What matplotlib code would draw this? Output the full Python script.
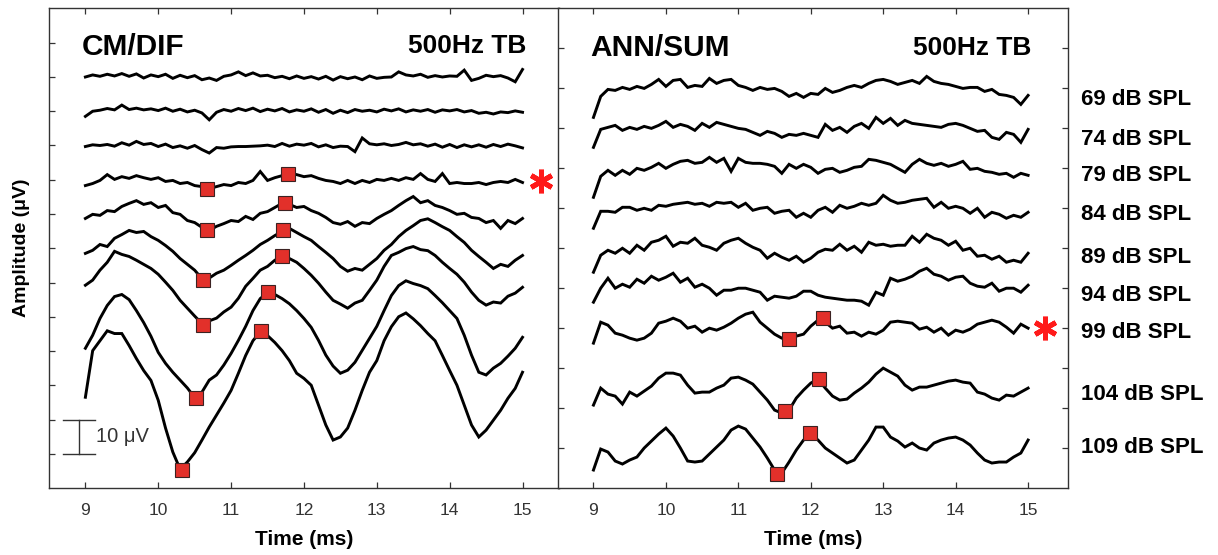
import numpy as np
import matplotlib
matplotlib.use("Agg")
import matplotlib.pyplot as plt
import matplotlib.transforms as mtransforms

plt.rcParams['font.family'] = ['Liberation Sans', 'DejaVu Sans']

# stimulus levels (dB SPL), one trace per level, top to bottom
levels = ['69', '74', '79', '84', '89', '94', '99', '104', '109']

# ---- CM/DIF panel: trace offsets (uV) and waveforms (uV, 9.0..15.0 ms, 0.1 ms step)
cm_offsets = [120.0, 110.0, 100.0, 88.9, 78.7, 68.5, 59.2, 40.8, 26.5]

cm_69 = [0.0, 0.6, 0.2, 0.8, 0.3, 1.0, 0.2, 0.9, -0.3, 0.6,
         0.1, 0.8, -0.4, 0.5, -0.2, 0.4, -0.8, -0.3, -1.0, 0.2,
         0.6, 1.5, 0.4, 1.2, 0.3, 0.5, -0.2, 0.2, -0.5, 0.3,
         -0.4, 0.1, -0.6, 0.2, -0.9, 0.1, -0.5, 0.0, -0.8, 0.3,
         -0.4, -0.1, 0.0, 1.5, 0.6, 0.3, 0.8, -0.1, 0.4, 0.0,
         0.3, 0.2, 2.0, -1.0, -0.4, 0.5, 0.1, 0.4, -0.3, -1.4,
         2.2]
cm_74 = [-1.5, 0.0, 0.3, 0.8, 0.4, 1.8, 0.5, 0.9, 0.4, 0.7,
         0.2, 0.9, 0.0, 0.6, -0.2, 0.3, -0.5, -2.5, -0.3, 0.5,
         0.0, 0.8, 0.2, 0.9, -0.1, 0.6, 0.1, 0.8, -0.2, 0.4,
         0.0, 0.7, -0.3, 0.5, -0.6, 0.3, -0.4, 0.5, 0.0, 0.3,
         -0.2, 0.6, 0.1, 0.7, -0.2, 0.4, 0.0, 0.5, -0.3, 0.4,
         0.1, 0.5, -0.2, 0.2, -0.6, -0.3, -0.8, -0.2, -0.4, 0.1,
         -0.3]
cm_79 = [-0.3, 0.2, 0.0, 0.3, -0.2, 0.8, 0.1, 1.2, 0.3, 0.6,
         -0.3, 0.4, -0.6, -0.1, -0.8, 0.0, -1.2, -2.2, -0.6, -0.8,
         -0.4, -0.3, -0.3, -0.2, -0.1, 0.1, -0.3, 0.6, -0.2, 0.4,
         0.1, 0.6, -0.4, 0.2, -0.6, -0.2, -0.3, -1.8, 2.2, 0.5,
         0.2, 0.5, 0.0, 0.3, 0.9, 0.2, 0.5, -0.2, 0.4, -0.5,
         0.3, -0.6, 0.2, -0.4, 0.2, -0.5, 0.3, -0.3, 0.4, -0.1,
         -0.7]
cm_84 = [-0.6, 0.0, 0.9, 2.6, 1.2, 2.0, 1.5, 2.3, 1.7, 1.2,
         1.7, 0.6, 0.9, 0.0, 0.3, -0.6, -0.9, -1.5, -0.9, -0.3,
         -0.6, 0.3, 0.0, 0.9, 3.5, 0.9, 1.7, 2.3, 2.9, 2.6,
         2.0, 2.3, 1.5, 0.9, 0.6, 0.0, 0.9, 0.0, 0.9, 0.3,
         1.2, 0.9, 1.5, 0.9, 1.7, 1.2, 2.9, 1.2, 0.6, 2.9,
         0.0, 0.3, 0.0, 0.0, 0.3, -0.3, 0.3, 0.6, 0.3, 1.2,
         0.3]
cm_89 = [0.0, 1.2, 0.9, 2.3, 2.0, 3.5, 4.4, 5.2, 4.1, 4.6,
         3.2, 3.8, 1.7, 1.2, -0.6, -1.2, -2.6, -3.5, -2.3, -1.5,
         -0.6, -0.9, 0.6, -0.3, 1.5, 2.0, 3.2, 4.4, 4.1, 3.2,
         3.5, 2.3, 1.5, 0.3, -1.2, -1.7, -0.9, -2.3, -1.2, -1.5,
         0.0, 1.2, 2.3, 3.8, 5.2, 6.4, 4.6, 5.2, 3.8, 3.2,
         2.3, 1.2, 1.5, 0.3, 0.0, -1.2, -0.6, -2.9, -0.6, -1.5,
         0.0]
cm_94 = [0.0, 0.9, 2.6, 2.0, 4.4, 5.5, 6.7, 6.1, 6.4, 4.9,
         3.8, 2.3, 0.6, -1.5, -3.2, -4.9, -7.4, -7.2, -5.8, -4.9,
         -3.5, -2.0, -0.6, 0.9, 2.6, 3.8, 5.2, 6.4, 7.3, 6.1,
         4.9, 3.8, 2.0, 0.3, -1.5, -3.8, -5.2, -4.4, -4.9, -3.2,
         -1.5, 0.9, 2.6, 4.9, 6.7, 8.1, 9.6, 10.1, 9.0, 7.8,
         6.7, 4.9, 3.2, 0.9, -0.9, -2.6, -4.4, -3.2, -3.8, -2.0,
         -0.6]
cm_99 = [0.0, 1.5, 4.4, 6.7, 9.9, 9.0, 8.4, 7.3, 6.1, 4.9,
         3.2, 0.9, -1.5, -4.4, -6.7, -9.0, -11.2, -10.4, -9.6, -7.8,
         -6.4, -3.8, -0.3, 2.0, 4.4, 5.5, 7.3, 8.4, 7.8, 6.7,
         4.9, 2.9, 0.6, -2.0, -4.4, -5.5, -6.7, -5.2, -4.4, -1.5,
         1.5, 5.5, 8.7, 9.6, 10.7, 11.3, 10.4, 10.1, 8.7, 6.7,
         4.9, 3.2, 0.9, -2.0, -4.4, -5.8, -4.9, -5.2, -3.2, -2.3,
         -0.6]
cm_104 = [0.0, 3.8, 8.7, 12.5, 15.1, 15.7, 14.2, 11.0, 7.5, 3.5,
          -1.2, -4.4, -7.0, -9.3, -11.6, -14.4, -12.8, -9.3, -7.8, -4.9,
          -1.5, 2.3, 6.4, 11.0, 14.5, 16.2, 15.7, 14.5, 13.0, 11.0,
          8.7, 6.1, 2.3, -2.0, -5.2, -7.3, -6.4, -4.1, -0.6, 2.9,
          6.4, 11.0, 15.4, 18.3, 19.7, 18.9, 18.3, 17.4, 15.4, 13.3,
          11.0, 8.7, 3.8, -2.0, -7.0, -7.8, -5.8, -4.4, -2.3, 0.0,
          3.2]
cm_109 = [0.0, 13.6, 16.5, 19.4, 18.6, 18.6, 15.1, 11.3, 7.8, 4.9,
          -0.9, -9.0, -16.0, -21.0, -18.9, -16.2, -12.5, -8.7, -5.2, -1.7,
          2.0, 7.0, 12.2, 16.5, 19.1, 18.0, 16.0, 13.6, 10.7, 7.0,
          5.5, 3.5, -2.3, -8.1, -12.5, -11.6, -9.0, -3.8, 2.0, 7.3,
          10.7, 16.5, 20.6, 23.5, 24.6, 22.9, 20.9, 18.6, 16.5, 12.2,
          7.8, 3.5, -2.3, -8.1, -11.6, -9.6, -6.7, -3.8, -0.3, 2.6,
          7.3]
cm_traces = [cm_69, cm_74, cm_79, cm_84, cm_89, cm_94, cm_99, cm_104, cm_109]

# picked troughs/peaks on the CM/DIF traces (ms, uV)
cm_mark_t = [10.67, 11.78, 10.67, 11.74, 10.62, 11.71, 10.62, 11.70, 10.52, 11.50, 10.33, 11.41]
cm_mark_v = [87.2, 91.8, 75.2, 83.1, 60.6, 75.2, 47.5, 67.6, 26.2, 57.1, 5.2, 45.8]
cm_star = (15.25, 89.5)

# ---- ANN/SUM panel: trace offsets and waveforms (9.0..15.0 ms, 0.1 ms step)
ann_offsets = [97.75, 87.75, 78.75, 69.0, 58.25, 48.75, 39.5, 24.0, 10.75]

ann_69 = [-5.0, 0.25, 2.0, 1.75, 2.5, 2.0, 2.75, 2.25, 3.25, 4.5,
          2.75, 4.25, 4.5, 2.5, 3.0, 2.75, 4.75, 3.5, 4.25, 4.5,
          3.0, 2.5, 1.75, 2.5, 2.0, 2.25, 1.5, 0.25, 1.0, 0.0,
          1.0, 0.75, 2.25, 1.25, 1.75, 2.5, 3.0, 2.5, 3.5, 4.25,
          4.5, 4.0, 3.25, 3.75, 4.25, 3.5, 5.25, 4.0, 3.5, 3.25,
          2.75, 2.25, 2.5, 2.5, 1.5, 2.0, 0.75, 0.5, 0.0, -1.75,
          0.5]
ann_74 = [-2.5, 2.0, 2.5, 3.0, 1.75, 2.5, 2.0, 2.75, 2.25, 3.0,
          4.0, 2.5, 3.25, 2.75, 1.75, 3.5, 2.5, 3.75, 3.25, 2.75,
          2.25, 2.0, 1.25, 0.5, 1.5, 1.0, 0.0, 0.75, 0.5, 1.0,
          0.5, 0.0, 3.25, 1.75, 2.5, 1.25, 2.75, 3.5, 2.25, 5.0,
          3.5, 4.75, 3.0, 4.25, 3.5, 3.25, 3.0, 2.75, 2.5, 3.25,
          3.5, 3.0, 2.25, 1.5, 1.75, 0.0, -0.5, 1.25, 0.75, -1.25,
          2.0]
ann_79 = [-6.0, -0.75, 0.75, -0.5, 0.75, -0.25, 1.25, 0.75, 1.5, 2.5,
          1.25, 2.25, 3.0, 3.25, 2.5, 2.75, 4.0, 2.75, 3.75, 0.5,
          3.75, 2.75, 2.5, 2.5, 2.25, 1.75, 0.0, 2.25, 1.25, 2.25,
          1.5, 0.0, 1.0, 1.25, 0.25, 0.75, 1.5, 1.75, 3.5, 3.25,
          2.75, 2.25, 1.25, 0.25, 2.25, 3.5, 2.5, 2.0, 2.5, 1.75,
          2.25, 3.0, 1.0, 1.25, 0.5, 0.25, -0.25, 0.0, -1.0, 0.0,
          -0.5]
ann_84 = [-4.0, 0.25, 0.25, 0.0, 1.25, 1.25, 0.5, 1.0, 0.5, 1.75,
          1.5, 2.0, 2.25, 2.5, 2.0, 2.25, 1.5, 2.5, 2.25, 2.5,
          1.25, 2.25, 0.5, 1.0, 1.25, -0.25, 0.25, 0.5, -1.25, -0.25,
          -1.25, 0.5, 1.25, 0.0, 1.75, 1.0, 1.5, 2.25, 1.75, 2.25,
          4.25, 3.0, 2.25, 2.5, 3.0, 3.25, 3.5, 1.25, 2.5, 1.0,
          1.5, 1.0, -0.25, 1.0, -1.25, 0.0, -0.5, -1.5, -0.75, -1.25,
          0.0]
ann_89 = [-4.25, 0.0, 1.25, 0.5, 1.75, 0.5, 2.5, 1.25, 3.25, 3.75,
          4.75, 2.25, 3.25, 3.0, 4.25, 2.5, 2.0, 1.25, 3.0, 3.75,
          4.25, 3.0, 2.0, 1.25, -0.75, 0.5, -0.5, -1.25, -0.25, -1.75,
          -0.75, 0.75, 1.5, 1.25, 2.75, 1.25, 2.25, 0.75, 3.25, 2.5,
          2.75, 2.25, 2.5, 2.5, 4.75, 3.25, 5.25, 4.25, 3.75, 2.5,
          3.5, 1.25, 1.75, -0.25, 0.0, -1.0, -0.25, -1.75, -1.25, -1.75,
          0.5]
ann_94 = [-2.25, 1.25, 3.75, 1.25, 2.25, 1.5, 3.5, 2.5, 4.25, 3.25,
          4.0, 5.0, 2.75, 3.75, 1.5, 2.25, 1.25, -0.5, 0.75, 0.75,
          1.25, 1.25, 0.75, 0.25, -1.75, -0.75, -1.0, -1.25, -0.75, 0.5,
          0.5, -0.5, -1.0, -1.25, -1.5, -1.75, -1.75, -2.0, -3.0, 0.25,
          -0.5, 3.75, 3.0, 3.5, 4.25, 5.5, 6.25, 4.75, 4.25, 3.25,
          4.0, 4.25, 2.5, 1.75, 1.5, 2.5, 0.5, 1.25, 1.25, 0.25,
          2.0]
ann_99 = [-3.25, 2.0, 1.25, -0.75, -1.25, -2.0, -2.5, -2.0, -0.75, 1.75,
          2.25, 3.0, 2.25, 0.5, 1.0, -0.5, 0.5, 0.0, 0.75, 1.75,
          3.0, 4.0, 4.5, 2.0, 0.5, -1.0, -2.0, -2.25, -1.5, -1.0,
          1.0, 2.5, 2.0, 0.5, 1.0, -0.75, -0.5, -1.5, -0.5, -1.0,
          0.0, 2.0, 2.25, 2.0, 1.75, 0.25, 0.75, -0.5, 0.5, -1.25,
          0.0, -0.5, 0.25, 1.5, 2.0, 2.5, 2.0, 0.75, -0.75, 1.5,
          0.5]
ann_104 = [-3.25, 1.0, -0.5, -1.0, -3.0, 0.0, -1.0, 0.25, 1.5, 3.5,
           4.75, 4.75, 4.25, 1.75, -0.25, 0.0, 0.0, 1.0, 1.75, 3.5,
           3.75, 3.0, 2.0, 0.0, -2.0, -4.5, -5.25, -4.5, -1.5, 0.5,
           2.25, 3.25, 1.0, -1.0, -2.0, -1.75, -0.25, 1.0, 2.5, 4.5,
           6.0, 5.0, 4.0, 1.75, 0.5, 1.25, 1.25, 1.75, 2.25, 2.75,
           3.0, 2.5, 2.25, 0.0, -0.5, -1.5, -2.0, -0.75, -1.0, 0.0,
           1.0]
ann_109 = [-6.25, -1.0, -1.75, -4.0, -4.75, -3.75, -3.0, -0.75, 1.0, 2.75,
           4.25, 2.25, -0.75, -4.0, -4.25, -4.0, -2.25, -0.5, 1.25, 3.75,
           4.75, 4.0, 1.75, -0.5, -3.25, -6.25, -7.0, -4.25, -1.25, 1.25,
           2.75, 1.25, -0.75, -2.0, -3.25, -4.5, -3.75, -1.25, 1.25, 4.5,
           4.5, 2.0, 1.0, -0.5, 0.5, -0.75, -1.25, 0.5, 1.25, 1.75,
           2.0, 1.25, 0.0, -2.0, -3.75, -4.5, -4.25, -4.25, -3.0, -2.0,
           1.25]
ann_traces = [ann_69, ann_74, ann_79, ann_84, ann_89, ann_94, ann_99, ann_104, ann_109]

ann_mark_t = [11.70, 12.17, 11.65, 12.12, 11.53, 11.99]
ann_mark_v = [37.25, 42.5, 19.25, 27.25, 3.5, 13.75]
ann_star = (15.24, 40.0)

x_ticks = [9, 10, 11, 12, 13, 14, 15]

MARK_RED = '#e2302a'
STAR_RED = '#ff1a1a'
SPINE = '#333333'


def style_axes(ax, xlim, ylim, yticks, right_ticks):
    """common look: inward ticks on every side, no y labels."""
    ax.set_xlim(*xlim)
    ax.set_ylim(*ylim)
    ax.set_xticks(x_ticks)
    ax.set_yticks(yticks)
    ax.tick_params(direction='in', length=4.5, width=0.9, color=SPINE,
                   top=True, right=right_ticks, labelleft=False,
                   labelsize=12.5, labelcolor='#333333', pad=11)
    for sp in ax.spines.values():
        sp.set_color(SPINE)
        sp.set_linewidth(1.0)
    ax.set_facecolor('white')


def draw_traces(ax, offsets, traces):
    """draw each waveform shifted by its offset."""
    for off, tr in zip(offsets, traces):
        v = np.asarray(tr)
        t = 9.0 + 0.1 * np.arange(len(v))
        ax.plot(t, v + off, color='black', lw=2.1, solid_joinstyle='miter', zorder=2)


def draw_marks(ax, mt, mv, star):
    ax.plot(mt, mv, ls='none', marker='s', ms=10.5, mfc=MARK_RED,
            mec='#3b2222', mew=0.8, zorder=3)
    ax.plot([star[0]], [star[1]], ls='none', marker=(6, 2, 0), ms=17,
            mew=3.6, color=STAR_RED, zorder=3, clip_on=False)


def main():
    fig = plt.figure(figsize=(12.18, 5.55), dpi=100)
    fig.patch.set_facecolor('white')

    ax1 = fig.add_axes([0.0402, 0.1207, 0.4187, 0.864])
    ax2 = fig.add_axes([0.4581, 0.1207, 0.4187, 0.864])

    style_axes(ax1, (8.5, 15.5), (0, 140), range(10, 140, 10), False)
    style_axes(ax2, (8.51, 15.55), (0, 120), range(10, 120, 10), True)

    draw_traces(ax1, cm_offsets, cm_traces)
    draw_traces(ax2, ann_offsets, ann_traces)
    draw_marks(ax1, cm_mark_t, cm_mark_v, cm_star)
    draw_marks(ax2, ann_mark_t, ann_mark_v, ann_star)

    # panel titles
    ax1.text(0.065, 0.903, 'CM/DIF', transform=ax1.transAxes, fontsize=21.5,
             fontweight='bold', va='baseline', ha='left')
    ax1.text(0.937, 0.907, '500Hz TB', transform=ax1.transAxes, fontsize=19,
             fontweight='bold', va='baseline', ha='right')
    ax2.text(0.063, 0.901, 'ANN/SUM', transform=ax2.transAxes, fontsize=21.5,
             fontweight='bold', va='baseline', ha='left')
    ax2.text(0.929, 0.903, '500Hz TB', transform=ax2.transAxes, fontsize=19,
             fontweight='bold', va='baseline', ha='right')

    # 10 uV scale bar
    ax1.plot([8.91, 8.91], [10, 20], color=SPINE, lw=1.0, clip_on=False)
    ax1.plot([8.69, 9.13], [10, 10], color=SPINE, lw=1.0)
    ax1.plot([8.69, 9.13], [20, 20], color=SPINE, lw=1.0)
    ax1.text(9.14, 15, '10 \u03bcV', fontsize=14.5, color='#333333',
             va='center', ha='left')

    # level labels to the right of the ANN/SUM panel
    trans = mtransforms.blended_transform_factory(ax2.transAxes, ax2.transData)
    for lev, off in zip(levels, ann_offsets):
        ax2.text(1.0255, off - 2.0, lev + ' dB SPL', transform=trans,
                 fontsize=16, fontweight='bold', va='baseline', ha='left')

    # axis titles
    for ax in (ax1, ax2):
        pos = ax.get_position()
        fig.text(pos.x0 + pos.width / 2, 0.018, 'Time (ms)', fontsize=15,
                 fontweight='bold', ha='center', va='baseline')
    fig.text(0.018, 0.553, 'Amplitude (\u03bcV)', fontsize=14, fontweight='bold',
             rotation=90, ha='center', va='center')

    fig.savefig('out.png', dpi=100)


if __name__ == "__main__":
    main()
